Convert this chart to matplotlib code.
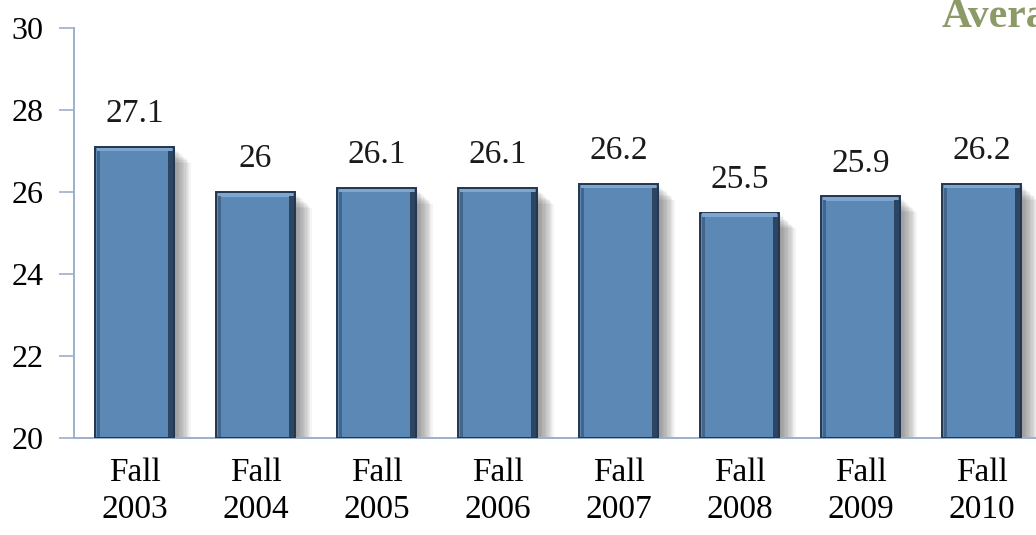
import matplotlib
matplotlib.use('Agg')
import matplotlib.pyplot as plt
import numpy as np

# Chart data
terms = ['Fall\n2003', 'Fall\n2004', 'Fall\n2005', 'Fall\n2006',
         'Fall\n2007', 'Fall\n2008', 'Fall\n2009', 'Fall\n2010']
averages = [27.1, 26, 26.1, 26.1, 26.2, 25.5, 25.9, 26.2]
value_labels = ['27.1', '26', '26.1', '26.1', '26.2', '25.5', '25.9', '26.2']
y_ticks = [20, 22, 24, 26, 28, 30]

plt.rcParams['font.family'] = ['Liberation Serif', 'DejaVu Serif']

fig = plt.figure(figsize=(10.36, 5.35), dpi=100)
ax = fig.add_axes([74 / 1036, (535 - 438) / 535, 968 / 1036, 410 / 535])

x = np.arange(len(averages))
base = 20
heights = np.array(averages) - base
w = 0.645

# Soft shadow to the right of each bar
for k in range(1, 14):
    ax.bar(x + 0.011 * k, heights - 0.03 * k, w, bottom=base,
           color='#404040', alpha=0.055, linewidth=0, zorder=1)

# Main bars with dark outline
ax.bar(x, heights, w, bottom=base, color='#5b88b5',
       edgecolor='#22364e', linewidth=1.4, zorder=3)
# Bevel: lighter top strip, darker side strips
ax.bar(x, np.full(len(x), 0.09), w * 0.96, bottom=np.array(averages) - 0.11,
       color='#7fa6cf', linewidth=0, zorder=4)
ax.bar(x + w * 0.46, heights - 0.12, w * 0.06, bottom=base + 0.02,
       color='#2b4563', linewidth=0, zorder=4)
ax.bar(x - w * 0.465, heights - 0.12, w * 0.04, bottom=base + 0.02,
       color='#42658c', linewidth=0, zorder=4)

for xi, v, lab in zip(x, averages, value_labels):
    ax.text(xi, v + 0.6, lab, ha='center', va='baseline', fontsize=24,
            color='#1a1a1a', zorder=5)

ax.set_xlim(-0.5, 7.5)
ax.set_ylim(20, 30)
ax.set_yticks(y_ticks)
ax.set_xticks(x)
ax.set_xticklabels(terms, fontsize=24, linespacing=1.3)
ax.tick_params(axis='y', labelsize=23, length=11, width=1.2,
               color='#9cb0cb', pad=11)
ax.tick_params(axis='x', length=0, pad=14)
for s in ['top', 'right']:
    ax.spines[s].set_visible(False)
for s in ['left', 'bottom']:
    ax.spines[s].set_color('#9cb0cb')
    ax.spines[s].set_linewidth(1.4)

fig.text(942 / 1036, 1 - 27 / 535, 'Average', fontsize=30, fontweight='bold',
         color='#8c9a67', ha='left', va='baseline')

fig.savefig('out.png', dpi=100)
